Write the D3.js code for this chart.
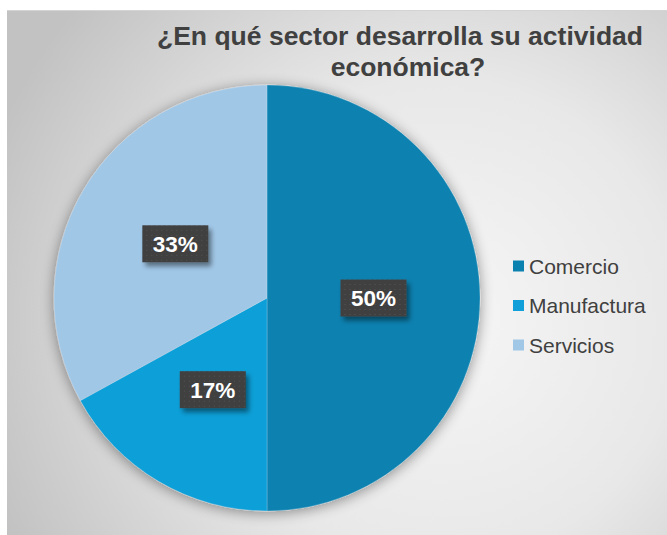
<!DOCTYPE html>
<html>
<head>
<meta charset="utf-8">
<script src="https://cdn.jsdelivr.net/npm/d3@7"></script>
<style>
  html, body { margin: 0; padding: 0; background: #ffffff; }
  svg { display: block; }
</style>
</head>
<body>
<svg id="chart" width="667" height="535"></svg>
<script>
// Survey answers: sector of economic activity (percent of respondents)
const categories = ["Comercio", "Manufactura", "Servicios"];
const percentages = [50, 17, 33];
const sliceColors = ["#0b81b0", "#109fd8", "#a1c7e7"];
const titleLines = ["¿En qué sector desarrolla su actividad", "económica?"];

const svg = d3.select("#chart");
const W = 667, H = 535;

const defs = svg.append("defs");

// panel background: soft radial light
const bg = defs.append("radialGradient")
  .attr("id", "panelBg")
  .attr("gradientUnits", "userSpaceOnUse")
  .attr("cx", 440).attr("cy", 320).attr("r", 480);
bg.append("stop").attr("offset", "0%").attr("stop-color", "#f6f6f6");
bg.append("stop").attr("offset", "50%").attr("stop-color", "#e8e8e8");
bg.append("stop").attr("offset", "100%").attr("stop-color", "#c2c2c2");

// glow/shadow around the pie
const pieShadow = defs.append("filter").attr("id", "pieShadow")
  .attr("x", "-20%").attr("y", "-20%").attr("width", "140%").attr("height", "140%");
pieShadow.append("feGaussianBlur").attr("in", "SourceAlpha").attr("stdDeviation", 7).attr("result", "b");
pieShadow.append("feOffset").attr("in", "b").attr("dx", 0).attr("dy", 2).attr("result", "o");
pieShadow.append("feComponentTransfer").attr("in", "o").attr("result", "s")
  .append("feFuncA").attr("type", "linear").attr("slope", 0.42);
const m1 = pieShadow.append("feMerge");
m1.append("feMergeNode").attr("in", "s");
m1.append("feMergeNode").attr("in", "SourceGraphic");

// drop shadow for value labels
const lblShadow = defs.append("filter").attr("id", "lblShadow")
  .attr("x", "-30%").attr("y", "-30%").attr("width", "170%").attr("height", "170%");
lblShadow.append("feGaussianBlur").attr("in", "SourceAlpha").attr("stdDeviation", 2.5).attr("result", "b");
lblShadow.append("feOffset").attr("in", "b").attr("dx", 3).attr("dy", 4).attr("result", "o");
lblShadow.append("feComponentTransfer").attr("in", "o").attr("result", "s")
  .append("feFuncA").attr("type", "linear").attr("slope", 0.45);
const m2 = lblShadow.append("feMerge");
m2.append("feMergeNode").attr("in", "s");
m2.append("feMergeNode").attr("in", "SourceGraphic");

// dotted texture for label boxes
const dots = defs.append("pattern").attr("id", "dots")
  .attr("patternUnits", "userSpaceOnUse").attr("width", 5).attr("height", 5);
dots.append("rect").attr("width", 5).attr("height", 5).attr("fill", "#3f3f3f");
dots.append("rect").attr("x", 1).attr("y", 1).attr("width", 1).attr("height", 1).attr("fill", "#575757");

// panel
svg.append("rect")
  .attr("x", 7).attr("y", 10).attr("width", W - 7).attr("height", H - 10)
  .attr("fill", "url(#panelBg)");
svg.append("line")
  .attr("x1", 7).attr("x2", W).attr("y1", 10.5).attr("y2", 10.5)
  .attr("stroke", "#d4d4d4").attr("stroke-width", 1);

// title
svg.append("text")
  .attr("text-anchor", "middle")
  .attr("font-family", "Liberation Sans, Arial, sans-serif")
  .attr("font-weight", "bold")
  .attr("font-size", 26.5)
  .attr("fill", "#404040")
  .selectAll("tspan")
  .data(titleLines)
  .join("tspan")
  .attr("x", (d, i) => i === 0 ? 400 : 408)
  .attr("y", (d, i) => 45 + i * 31)
  .text(d => d);

// pie
const cx = 267, cy = 298, R = 213;
const data = categories.map((c, i) => ({ name: c, value: percentages[i], color: sliceColors[i] }));
const pie = d3.pie().sort(null).value(d => d.value);
const arc = d3.arc().innerRadius(0).outerRadius(R);
const arcs = pie(data);

const g = svg.append("g").attr("transform", `translate(${cx},${cy})`);
const slices = g.append("g").attr("filter", "url(#pieShadow)");
slices.selectAll("path")
  .data(arcs)
  .join("path")
  .attr("d", arc)
  .attr("fill", d => d.data.color)
  .attr("stroke", "rgba(255,255,255,0.35)")
  .attr("stroke-width", 0.6);

// value labels
const boxW = 66, boxH = 37;
const labels = g.selectAll("g.lbl")
  .data(arcs)
  .join("g")
  .attr("class", "lbl")
  .attr("transform", d => {
    const [x, y] = arc.centroid(d);
    return `translate(${x},${y})`;
  });
labels.append("rect")
  .attr("x", -boxW / 2).attr("y", -boxH / 2)
  .attr("width", boxW).attr("height", boxH)
  .attr("fill", "url(#dots)")
  .attr("filter", "url(#lblShadow)");
labels.append("text")
  .attr("text-anchor", "middle")
  .attr("dy", "0.36em")
  .attr("font-family", "Liberation Sans, Arial, sans-serif")
  .attr("font-weight", "bold")
  .attr("font-size", 22.5)
  .attr("fill", "#ffffff")
  .text(d => d.data.value + "%");

// legend
const legend = svg.append("g").attr("transform", "translate(513,0)");
const items = legend.selectAll("g")
  .data(data)
  .join("g")
  .attr("transform", (d, i) => `translate(0,${266 + i * 39.5})`);
items.append("rect")
  .attr("x", 0).attr("y", -5.5)
  .attr("width", 11).attr("height", 11)
  .attr("fill", d => d.color);
items.append("text")
  .attr("x", 16)
  .attr("dy", "0.36em")
  .attr("font-family", "Liberation Sans, Arial, sans-serif")
  .attr("font-size", 21)
  .attr("fill", "#404040")
  .text(d => d.name);
</script>
</body>
</html>
